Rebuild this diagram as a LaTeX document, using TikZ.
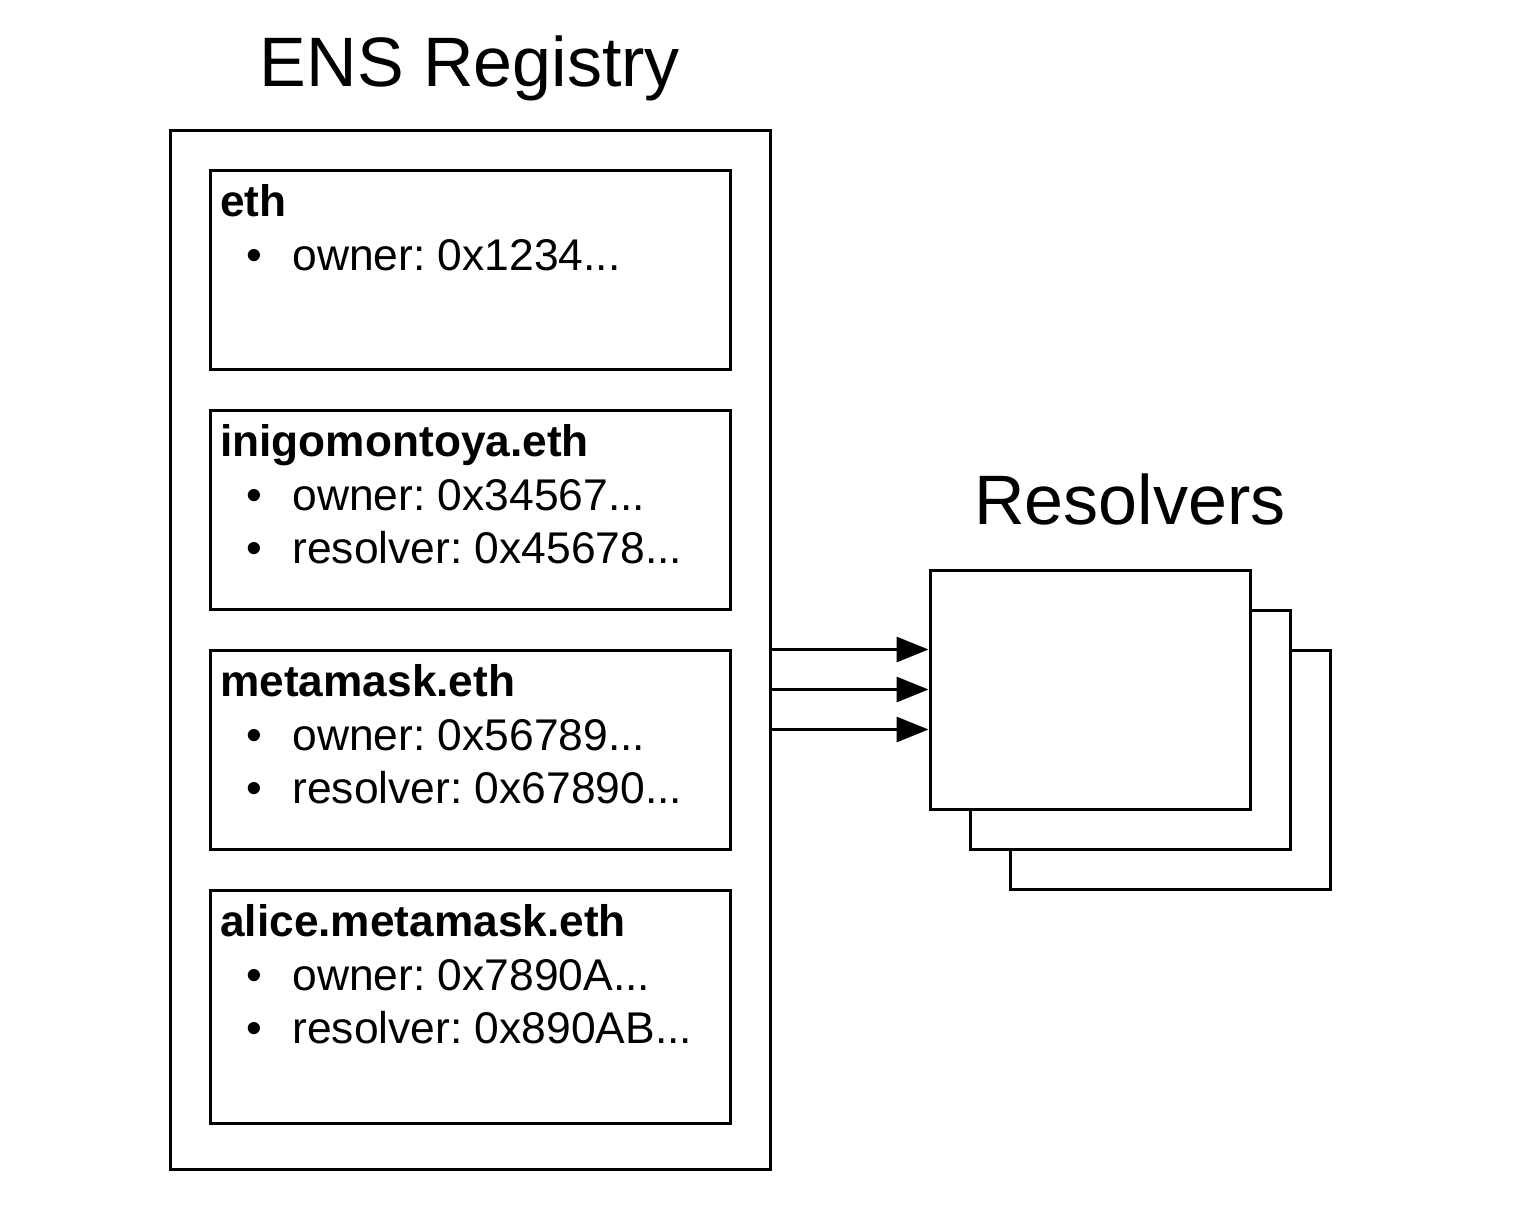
\documentclass[tikz,border=0pt]{standalone}
\usepackage{fontspec}
\setmainfont{Liberation Sans}
\usetikzlibrary{arrows.meta}
\begin{document}
\frenchspacing
\begin{tikzpicture}[x=0.5pt,y=-0.5pt,
  box/.style={draw=black,line width=1.5pt,fill=white,inner sep=0pt},
  ttl/.style={font=\fontsize{35}{40}\selectfont,anchor=base,inner sep=0pt},
  head/.style={font=\fontsize{22.1}{26}\bfseries\selectfont,anchor=base west,inner sep=0pt},
  itm/.style={font=\fontsize{22.2}{26}\selectfont,anchor=base west,inner sep=0pt},
  bul/.style={font=\fontsize{22.5}{26}\selectfont,anchor=base west,inner sep=0pt},
  arr/.style={line width=1.5pt,-{Triangle[length=16pt,width=12.5pt]}}]
\useasboundingbox (0,0) rectangle (1516,1216);
% titles
\node[ttl] (t1) at (470,86) {ENS Registry};
\node[ttl] (t2) at (1130,524) {Resolvers};
% registry
\node[box,minimum width=300pt,minimum height=519.5pt] (reg) at (470,649.5) {};
\node[box,minimum width=260pt,minimum height=99.5pt] (b1) at (470,269.5) {};
\node[box,minimum width=260pt,minimum height=99.5pt] (b2) at (470,509.5) {};
\node[box,minimum width=260pt,minimum height=99.5pt] (b3) at (470,749.5) {};
\node[box,minimum width=260pt,minimum height=116.5pt] (b4) at (470,1006.5) {};
% entries
\node[head] (h1) at (220,216) {eth};
\node[bul] (u11) at (246,270) {•};
\node[itm] (i11) at (292,270) {owner: 0x1234...};
\node[head] (h2) at (220,456) {inigomontoya.eth};
\node[bul] (u21) at (246,510) {•};
\node[itm] (i21) at (292,510) {owner: 0x34567...};
\node[bul] (u22) at (246,563) {•};
\node[itm] (i22) at (292,563) {resolver: 0x45678...};
\node[head] (h3) at (220,696) {metamask.eth};
\node[bul] (u31) at (246,750) {•};
\node[itm] (i31) at (292,750) {owner: 0x56789...};
\node[bul] (u32) at (246,803) {•};
\node[itm] (i32) at (292,803) {resolver: 0x67890...};
\node[head] (h4) at (220,936) {alice.metamask.eth};
\node[bul] (u41) at (246,990) {•};
\node[itm] (i41) at (292,990) {owner: 0x7890A...};
\node[bul] (u42) at (246,1043) {•};
\node[itm] (i42) at (292,1043) {resolver: 0x890AB...};
% resolvers stack
\node[box,minimum width=160pt,minimum height=119.5pt] (r3) at (1170,769.5) {};
\node[box,minimum width=160pt,minimum height=119.5pt] (r2) at (1130,729.5) {};
\node[box,minimum width=160pt,minimum height=119.5pt] (r1) at (1090,689.5) {};
% arrows
\path (r1.west) ++(0,-40) coordinate (p1);
\path (r1.west) coordinate (p2);
\path (r1.west) ++(0,40) coordinate (p3);
\draw[arr] (reg.east |- p1) -- (p1);
\draw[arr] (reg.east |- p2) -- (p2);
\draw[arr] (reg.east |- p3) -- (p3);
\end{tikzpicture}
\end{document}
